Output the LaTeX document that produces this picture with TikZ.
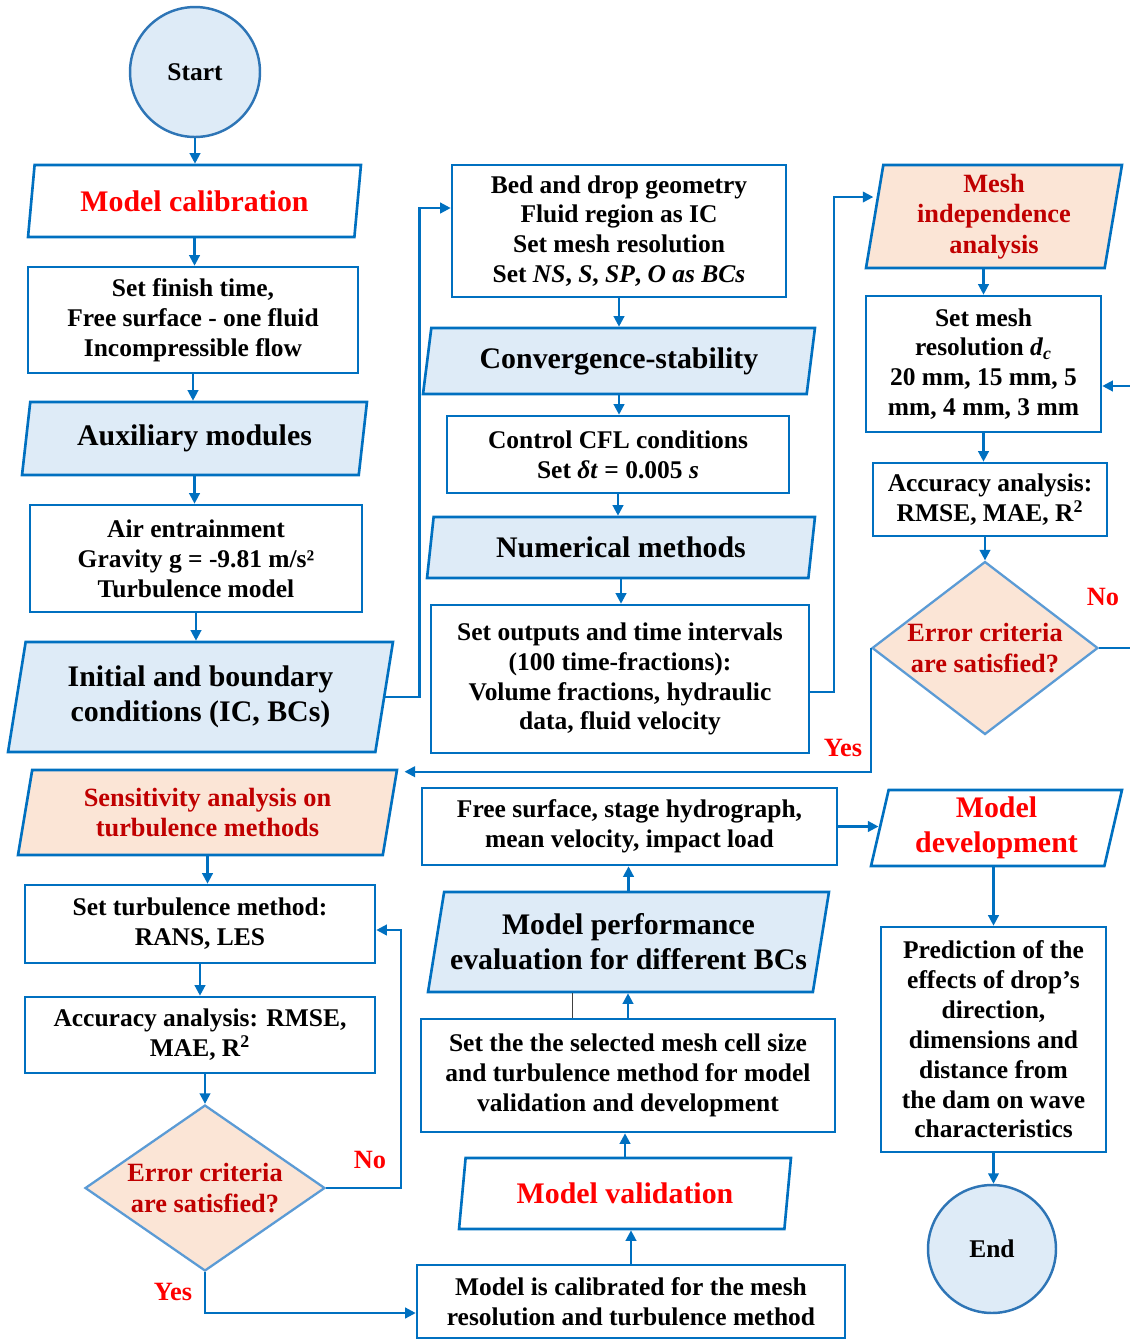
\documentclass[tikz,border=0pt]{standalone}
\usepackage{fontspec}
\setmainfont{Liberation Serif}
\usetikzlibrary{shapes.geometric}
\usetikzlibrary{arrows.meta}
\usetikzlibrary{positioning}

\definecolor{flowblue}{RGB}{0,112,192}
\definecolor{ringblue}{RGB}{46,117,182}
\definecolor{edgeblue}{RGB}{91,155,213}
\definecolor{paleblue}{RGB}{222,235,247}
\definecolor{peach}{RGB}{251,229,214}
\definecolor{darkred}{RGB}{192,0,0}

\newcommand{\flowtext}{\fontsize{14.5}{17}\selectfont\bfseries}
\newcommand{\flowtitle}{\fontsize{17}{20}\selectfont\bfseries}
\newcommand{\flowred}{\fontsize{15}{17.5}\selectfont\bfseries}

\tikzset{
  procbox/.style={draw=flowblue, line width=1.5pt, fill=white, align=center, inner sep=2pt, font=\flowtext},
  iobox/.style={trapezium, trapezium left angle=75, trapezium right angle=105, trapezium stretches body,
    draw=flowblue, line width=1.5pt, fill=white, align=center, inner sep=1pt, font=\flowtitle},
  termnode/.style={circle, draw=ringblue, line width=1.4pt, fill=paleblue, inner sep=0pt, font=\flowtext},
  decnode/.style={diamond, aspect=1.45, draw=edgeblue, line width=1.3pt, fill=peach, align=center,
    inner sep=0pt, text=darkred, font=\flowred},
  flow/.style={draw=flowblue, line width=1.3pt, -{Triangle[length=6pt,width=6pt]}},
  answer/.style={text=red, font=\flowred},
}

\begin{document}
\begin{tikzpicture}[x=0.02cm, y=-0.02cm]
\useasboundingbox (0,0) rectangle (1130,1340);

% left column
\node[termnode, minimum size=2.6cm] (start) at (195,72) {Start};
\node[iobox, text=red, minimum width=6.66cm, minimum height=1.44cm] (calib) at (194.5,201) {Model calibration};
\node[procbox, minimum width=6.6cm, minimum height=2.12cm] (finish) at (193,320) {Set finish time,\\Free surface - one fluid\\Incompressible flow};
\node[iobox, fill=paleblue, minimum width=6.9cm, minimum height=1.46cm] (aux) at (194.5,438.5) {Auxiliary modules};
\node[procbox, minimum width=6.64cm, minimum height=2.14cm] (air) at (196,558.5) {Air entrainment\\Gravity g = -9.81 m/s²\\Turbulence model};
\node[iobox, fill=paleblue, minimum width=7.7cm, minimum height=2.2cm] (init) at (200.5,697) {Initial and boundary\\conditions (IC, BCs)};
\node[iobox, fill=peach, text=darkred, font=\flowred, minimum width=7.58cm, minimum height=1.7cm] (sens) at (207.5,812.5) {Sensitivity analysis on\\turbulence methods};
\node[procbox, minimum width=7cm, minimum height=1.56cm] (turb) at (200,924) {Set turbulence method:\\RANS, LES};
\node[procbox, minimum width=7cm, minimum height=1.52cm] (acc1) at (200,1035) {Accuracy analysis: RMSE,\\MAE, R\textsuperscript{2}};
\node[decnode, minimum width=4.8cm, minimum height=3.32cm] (crit1) at (205,1188) {Error criteria\\are satisfied?};

% middle column
\node[procbox, minimum width=6.68cm, minimum height=2.64cm] (bed) at (619,231) {Bed and drop geometry\\Fluid region as IC\\Set mesh resolution\\Set \textit{NS}, \textit{S}, \textit{SP}, \textit{O as BCs}};
\node[iobox, fill=paleblue, minimum width=7.84cm, minimum height=1.32cm] (conv) at (619,361) {Convergence-stability};
\node[procbox, minimum width=6.84cm, minimum height=1.54cm] (cfl) at (618,454.5) {Control CFL conditions\\Set \textit{δt} = 0.005 \textit{s}};
\node[iobox, fill=paleblue, minimum width=7.76cm, minimum height=1.22cm] (num) at (621,547.5) {Numerical methods};
\node[procbox, minimum width=7.56cm, minimum height=2.96cm] (outp) at (620,679) {Set outputs and time intervals\\(100 time-fractions):\\Volume fractions, hydraulic\\data, fluid velocity};
\node[procbox, minimum width=8.3cm, minimum height=1.54cm] (surf) at (629.5,826.5) {Free surface, stage hydrograph,\\mean velocity, impact load};
\node[iobox, fill=paleblue, minimum width=8.02cm, minimum height=2cm] (perf) at (628.5,942) {Model performance\\evaluation for different BCs};
\node[procbox, minimum width=8.28cm, minimum height=2.26cm] (select) at (628,1075.5) {Set the the selected mesh cell size\\and turbulence method for model\\validation and development};
\node[iobox, text=red, minimum width=6.64cm, minimum height=1.42cm] (valid) at (625,1193.5) {Model validation};
\node[procbox, minimum width=8.56cm, minimum height=1.46cm] (calibd) at (631,1301.5) {Model is calibrated for the mesh\\resolution and turbulence method};

% right column
\node[iobox, fill=peach, text=darkred, font=\flowred, trapezium left angle=79, trapezium right angle=101, minimum width=5.12cm, minimum height=2.06cm] (mesh) at (994,216.5) {Mesh\\independence\\analysis};
\node[procbox, minimum width=4.7cm, minimum height=2.72cm] (res) at (983.5,364) {Set mesh\\resolution \textit{d}\textsubscript{\textit{c}}\\20 mm, 15 mm, 5\\mm, 4 mm, 3 mm};
\node[procbox, minimum width=4.68cm, minimum height=1.46cm] (acc2) at (990,499.5) {Accuracy analysis:\\RMSE, MAE, R\textsuperscript{2}};
\node[decnode, aspect=1.3, minimum width=4.52cm, minimum height=3.46cm] (crit2) at (985,648) {Error criteria\\are satisfied?};
\node[iobox, text=red, minimum width=5.02cm, minimum height=1.52cm] (dev) at (996.5,828) {Model\\development};
\node[procbox, minimum width=4.5cm, minimum height=4.5cm] (pred) at (993.5,1039.5) {Prediction of the\\effects of drop’s\\direction,\\dimensions and\\distance from\\the dam on wave\\characteristics};
\node[termnode, minimum size=2.56cm] (stop) at (992,1249) {End};

% branch labels
\node[answer] (no1) at (370,1160) {No};
\node[answer] (yes1) at (173,1292) {Yes};
\node[answer] (no2) at (1103,597) {No};
\node[answer] (yes2) at (843,748) {Yes};

% straight links
\draw[flow] (start.south) -- (start.south |- calib.north);
\draw[flow] (calib.south) -- (calib.south |- finish.north);
\draw[flow] (finish.south) -- (finish.south |- aux.north);
\draw[flow] (aux.south) -- (aux.south |- air.north);
\draw[flow] (air.south) -- (air.south |- init.north);
\draw[flow] (sens.south) -- (sens.south |- turb.north);
\draw[flow] (turb.south) -- (turb.south |- acc1.north);
\draw[flow] (crit1.north |- acc1.south) -- (crit1.north);

\draw[flow] (bed.south) -- (bed.south |- conv.north);
\draw[flow] (conv.south) -- (conv.south |- cfl.north);
\draw[flow] (cfl.south) -- (cfl.south |- num.north);
\draw[flow] (num.south) -- (num.south |- outp.north);
\draw[flow] (perf.north) -- (perf.north |- surf.south);
\draw[flow] (select.north) -- (select.north |- perf.south);
\draw[flow] (valid.north) -- (valid.north |- select.south);
\draw[flow] (calibd.north) -- (calibd.north |- valid.south);
\draw[black!75, thin] ([xshift=-1.12cm]select.north) -- ([xshift=-1.12cm]select.north |- perf.south);

\draw[flow] (res.north |- mesh.south) -- (res.north);
\draw[flow] (res.south) -- (res.south |- acc2.north);
\draw[flow] (crit2.north |- acc2.south) -- (crit2.north);
\draw[flow] (pred.north |- dev.south) -- (pred.north);
\draw[flow] (pred.south) -- (pred.south |- stop.north);
\draw[flow] (surf.east) -- (surf.east -| dev.west);

% bent links
\draw[flow] (init.east) -- ++(34,0) |- ([yshift=0.46cm]bed.west);
\draw[flow] ([yshift=-0.26cm]outp.east) -- ++(24,0) |- ([yshift=0.39cm]mesh.west);
\draw[flow] (crit2.west) |- ([xshift=0.12cm,yshift=-0.06cm]sens.top right corner);
\coordinate (noturn) at (1136,648);
\draw[flow] (crit2.east) -- (noturn) |- ([yshift=-0.44cm]res.east);
\draw[flow] (crit1.east) -- ++(75,0) |- ([yshift=-0.12cm]turb.east);
\draw[flow] (crit1.south) |- ([yshift=-0.23cm]calibd.west);

\end{tikzpicture}
\end{document}
